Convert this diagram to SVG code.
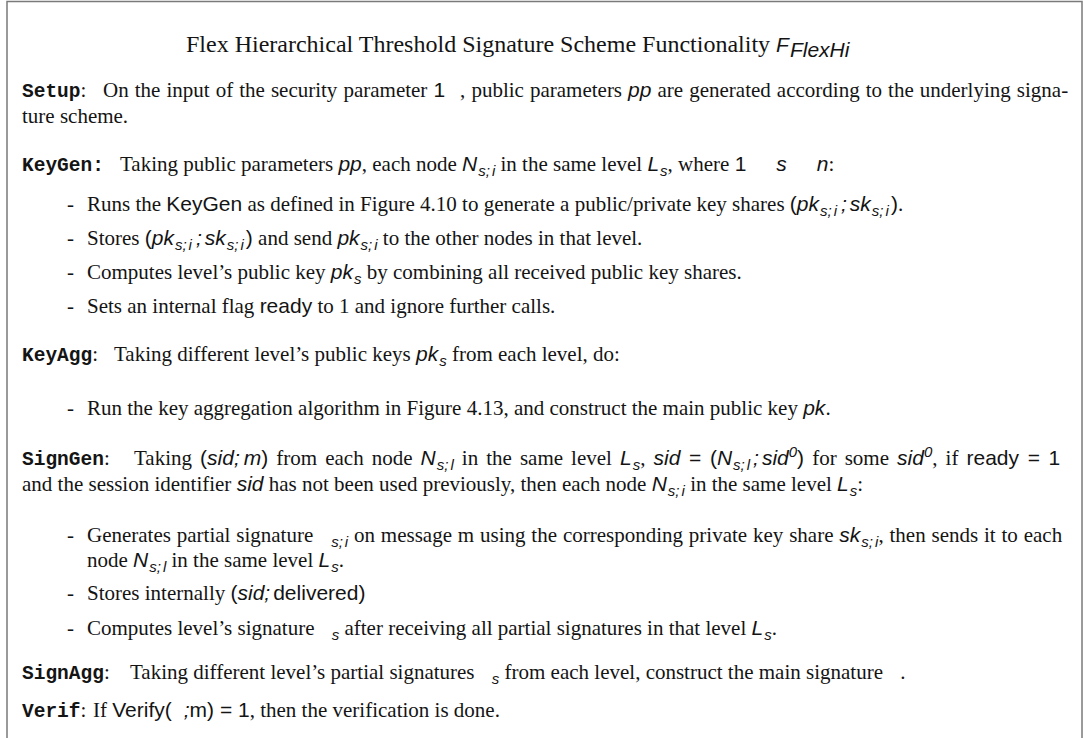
<svg xmlns="http://www.w3.org/2000/svg" width="1084" height="738" viewBox="0 0 1084 738">
  <style>
    .t { font-family: "Liberation Serif", "Times New Roman", serif; font-size: 21px; fill: #141414; white-space: pre; }
    .ttl { font-size: 24px; }
    .lb { font-family: "Liberation Mono", "Courier New", monospace; font-weight: bold; font-size: 19.5px; }
    .m { font-family: "Liberation Sans", Arial, sans-serif; font-style: italic; font-size: 21px; }
    .s { font-family: "Liberation Sans", Arial, sans-serif; font-size: 21px; }
    .sub { font-size: 15px; }
    .frame { fill: #ffffff; stroke: #7a7a7a; stroke-width: 1.5; }
  </style>

  <rect x="0" y="0" width="1084" height="738" fill="#ffffff"/>
  <!-- outer frame, open at the bottom edge of the page -->
  <rect class="frame" x="7" y="1.5" width="1075" height="780"/>

  <g id="title">
    <text class="t ttl" x="186" y="52">Flex Hierarchical Threshold Signature Scheme Functionality <tspan class="m" font-size="23">F</tspan><tspan class="m" font-size="16" dx="1" dy="5">FlexHi</tspan></text>
  </g>

  <g id="setup">
    <text class="t" x="22" y="97" word-spacing="0.8"><tspan class="lb">Setup</tspan>:<tspan x="103">On the input of the security parameter </tspan><tspan class="s">1</tspan><tspan dx="15">, public parameters </tspan><tspan class="m">pp</tspan> are generated according to the underlying signa-</text>
    <text class="t" x="22" y="123">ture scheme.</text>
  </g>

  <g id="keygen">
    <text class="t" x="22" y="171"><tspan class="lb">KeyGen:</tspan><tspan x="120">Taking public parameters </tspan><tspan class="m">pp</tspan>, each node <tspan class="m">N</tspan><tspan class="m sub" dx="1" dy="5">s;</tspan><tspan class="m sub" dx="2">i</tspan><tspan dy="-5"> in the same level </tspan><tspan class="m">L</tspan><tspan class="m sub" dx="1" dy="5">s</tspan><tspan dy="-5">, where </tspan><tspan class="s">1</tspan><tspan class="m" dx="30">s</tspan><tspan class="m" dx="30">n</tspan>:</text>
    <text class="t" x="67" y="211">-<tspan x="87">Runs the </tspan><tspan class="s">KeyGen</tspan> as defined in Figure 4.10 to generate a public/private key shares <tspan class="s">(</tspan><tspan class="m">pk</tspan><tspan class="m sub" dx="1" dy="5">s;</tspan><tspan class="m sub" dx="2">i</tspan><tspan class="m" dx="4" dy="-5">;</tspan><tspan class="m" dx="3">sk</tspan><tspan class="m sub" dx="1" dy="5">s;</tspan><tspan class="m sub" dx="2">i</tspan><tspan class="s" dx="2" dy="-5">)</tspan>.</text>
    <text class="t" x="67" y="245">-<tspan x="87">Stores </tspan><tspan class="s">(</tspan><tspan class="m">pk</tspan><tspan class="m sub" dx="1" dy="5">s;</tspan><tspan class="m sub" dx="2">i</tspan><tspan class="m" dx="4" dy="-5">;</tspan><tspan class="m" dx="3">sk</tspan><tspan class="m sub" dx="1" dy="5">s;</tspan><tspan class="m sub" dx="2">i</tspan><tspan class="s" dx="2" dy="-5">)</tspan> and send <tspan class="m">pk</tspan><tspan class="m sub" dx="1" dy="5">s;</tspan><tspan class="m sub" dx="2">i</tspan><tspan dy="-5"> to the other nodes in that level.</tspan></text>
    <text class="t" x="67" y="279">-<tspan x="87">Computes level’s public key </tspan><tspan class="m">pk</tspan><tspan class="m sub" dx="1" dy="5">s</tspan><tspan dy="-5"> by combining all received public key shares.</tspan></text>
    <text class="t" x="67" y="313">-<tspan x="87">Sets an internal flag </tspan><tspan class="s">ready</tspan> to 1 and ignore further calls.</text>
  </g>

  <g id="keyagg">
    <text class="t" x="22" y="361"><tspan class="lb">KeyAgg</tspan>:<tspan x="114">Taking different level’s public keys </tspan><tspan class="m">pk</tspan><tspan class="m sub" dx="1" dy="5">s</tspan><tspan dy="-5"> from each level, do:</tspan></text>
    <text class="t" x="67" y="415">-<tspan x="87">Run the key aggregation algorithm in Figure 4.13, and construct the main public key </tspan><tspan class="m">pk</tspan>.</text>
  </g>

  <g id="signgen">
    <text class="t" x="22" y="465" word-spacing="2.8"><tspan class="lb">SignGen</tspan>:<tspan x="134">Taking </tspan><tspan class="s">(</tspan><tspan class="m">sid</tspan><tspan class="m">;</tspan><tspan class="m" dx="4">m</tspan><tspan class="s">)</tspan> from each node <tspan class="m">N</tspan><tspan class="m sub" dx="1" dy="5">s;</tspan><tspan class="m sub" dx="2">l</tspan><tspan dy="-5"> in the same level </tspan><tspan class="m">L</tspan><tspan class="m sub" dx="1" dy="5">s</tspan><tspan dy="-5">, </tspan><tspan class="m">sid</tspan><tspan class="s"> = (</tspan><tspan class="m">N</tspan><tspan class="m sub" dx="1" dy="5">s;</tspan><tspan class="m sub" dx="2">l</tspan><tspan class="m" dx="3" dy="-5">;</tspan><tspan class="m" dx="3">sid</tspan><tspan class="m sub" dy="-8">0</tspan><tspan class="s" dy="8">)</tspan> for some <tspan class="m">sid</tspan><tspan class="m sub" dy="-8">0</tspan><tspan dy="8">, if </tspan><tspan class="s">ready = 1</tspan></text>
    <text class="t" x="22" y="491">and the session identifier <tspan class="m">sid</tspan> has not been used previously, then each node <tspan class="m">N</tspan><tspan class="m sub" dx="1" dy="5">s;</tspan><tspan class="m sub" dx="2">i</tspan><tspan dy="-5"> in the same level </tspan><tspan class="m">L</tspan><tspan class="m sub" dx="1" dy="5">s</tspan><tspan dy="-5">:</tspan></text>
    <text class="t" x="67" y="542" word-spacing="0.6">-<tspan x="87">Generates partial signature </tspan><tspan class="m sub" dx="12" dy="5">s;</tspan><tspan class="m sub" dx="2">i</tspan><tspan dy="-5"> on message m using the corresponding private key share </tspan><tspan class="m">sk</tspan><tspan class="m sub" dx="1" dy="5">s;</tspan><tspan class="m sub" dx="2">i</tspan><tspan dy="-5">, then sends it to each</tspan></text>
    <text class="t" x="87" y="567">node <tspan class="m">N</tspan><tspan class="m sub" dx="1" dy="5">s;</tspan><tspan class="m sub" dx="2">l</tspan><tspan dy="-5"> in the same level </tspan><tspan class="m">L</tspan><tspan class="m sub" dx="1" dy="5">s</tspan><tspan dy="-5">.</tspan></text>
    <text class="t" x="67" y="600">-<tspan x="87">Stores internally </tspan><tspan class="s">(</tspan><tspan class="m">sid</tspan><tspan class="m">;</tspan><tspan class="s" dx="3">delivered)</tspan></text>
    <text class="t" x="67" y="635">-<tspan x="87">Computes level’s signature </tspan><tspan class="m sub" dx="12" dy="5">s</tspan><tspan dy="-5"> after receiving all partial signatures in that level </tspan><tspan class="m">L</tspan><tspan class="m sub" dx="1" dy="5">s</tspan><tspan dy="-5">.</tspan></text>
  </g>

  <g id="signagg">
    <text class="t" x="22" y="679"><tspan class="lb">SignAgg</tspan>:<tspan x="130">Taking different level’s partial signatures </tspan><tspan class="m sub" dx="12" dy="5">s</tspan><tspan dy="-5"> from each level, construct the main signature </tspan><tspan dx="12">.</tspan></text>
  </g>

  <g id="verif">
    <text class="t" x="22" y="717"><tspan class="lb">Verif</tspan>:<tspan x="93">If </tspan><tspan class="s">Verify(</tspan><tspan class="m" dx="12">;</tspan><tspan class="s">m) = 1</tspan>, then the verification is done.</text>
  </g>
</svg>
